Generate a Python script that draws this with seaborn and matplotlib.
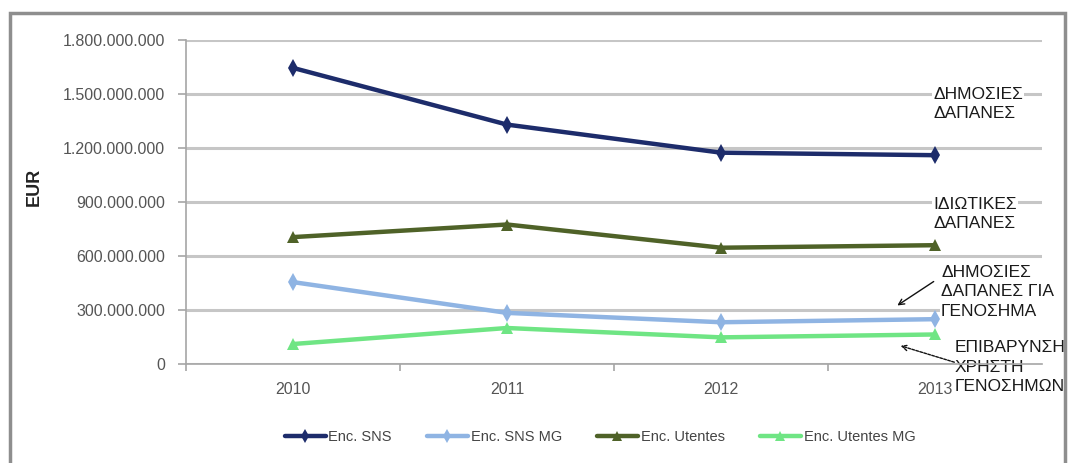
import matplotlib
matplotlib.use("Agg")
import matplotlib.pyplot as plt
import numpy as np
import pandas as pd
import seaborn as sns
from matplotlib.ticker import FuncFormatter, FixedLocator
from matplotlib.patches import Rectangle

# Spending by year (EUR)
years = ["2010", "2011", "2012", "2013"]
enc_sns = [1_645_000_000, 1_330_000_000, 1_174_000_000, 1_160_000_000]
enc_sns_mg = [455_000_000, 284_000_000, 232_000_000, 249_000_000]
enc_utentes = [705_000_000, 775_000_000, 646_000_000, 660_000_000]
enc_utentes_mg = [111_000_000, 200_000_000, 148_000_000, 164_000_000]

series_names = ["Enc. SNS", "Enc. SNS MG", "Enc. Utentes", "Enc. Utentes MG"]
series_values = [enc_sns, enc_sns_mg, enc_utentes, enc_utentes_mg]
y_ticks = [0, 300_000_000, 600_000_000, 900_000_000, 1_200_000_000, 1_500_000_000, 1_800_000_000]

colors = {"Enc. SNS": "#1d2c6b", "Enc. SNS MG": "#8fb4e3",
          "Enc. Utentes": "#4f6228", "Enc. Utentes MG": "#6fe584"}
markers = {"Enc. SNS": "d", "Enc. SNS MG": "d",
           "Enc. Utentes": "^", "Enc. Utentes MG": "^"}

rows = []
for name, vals in zip(series_names, series_values):
    for i, (yr, v) in enumerate(zip(years, vals)):
        rows.append({"pos": i, "ano": yr, "serie": name, "valor": v})
df = pd.DataFrame(rows)

sns.set_style("white")
plt.rcParams["font.family"] = ["Liberation Sans", "DejaVu Sans"]

W, H = 1071, 463
fig = plt.figure(figsize=(W / 100, H / 100), dpi=100)


def fx(x):
    return x / W


def fy(y):
    return 1 - y / H


ax = fig.add_axes([fx(186), fy(364), fx(1042) - fx(186), fy(40) - fy(364)])

sns.lineplot(data=df, x="pos", y="valor", hue="serie", style="serie",
             hue_order=series_names, style_order=series_names,
             palette=colors, markers=markers, dashes=False,
             linewidth=3.2, markersize=9, markeredgewidth=0,
             sort=False, ax=ax, zorder=3)

ax.set_xlim(-0.5, 3.5)
ax.set_ylim(0, 1_800_000_000)
ax.set_axisbelow(True)

# Axes styling
for side in ["top", "right"]:
    ax.spines[side].set_visible(False)
ax.spines["left"].set_color("#a6a6a6")
ax.spines["left"].set_linewidth(1.2)
ax.spines["bottom"].set_color("#a6a6a6")
ax.spines["bottom"].set_linewidth(1.2)

ax.yaxis.set_major_locator(FixedLocator(y_ticks))
ax.yaxis.set_major_formatter(FuncFormatter(lambda v, p: f"{v:,.0f}".replace(",", ".")))
ax.grid(axis="y", color="#c6c6c6", linewidth=2.2)
ax.grid(axis="x", visible=False)
ax.tick_params(axis="y", which="major", direction="out", length=6, width=1.2,
               color="#a6a6a6", pad=9, labelsize=11.5, labelcolor="#555555", left=True)

ax.set_xticks(range(len(years)))
ax.set_xticklabels(years)
ax.set_xticks(np.arange(-0.5, len(years), 1.0), minor=True)
ax.tick_params(axis="x", which="major", length=0, pad=13, labelsize=11.5,
               labelcolor="#555555")
ax.tick_params(axis="x", which="minor", direction="out", length=5, width=1.2,
               color="#a6a6a6", bottom=True)

ax.set_xlabel("")
ax.set_ylabel("EUR", fontsize=13, fontweight="bold", color="#222222")
ax.yaxis.set_label_coords((43 - 186) / (1042 - 186), (364 - 187) / (364 - 40))

# Legend below the plot
handles, labels = ax.get_legend_handles_labels()
for h in handles:
    h.set_markersize(7)
ax.get_legend().remove()
fig.legend(handles, labels, loc="center", bbox_to_anchor=(fx(600), fy(437)),
           ncol=4, frameon=False, fontsize=10.5, handlelength=2.8,
           columnspacing=2.4, handletextpad=0.2, labelcolor="#444444")

# Chart frame
fig.patches.append(Rectangle((fx(10), -0.1), fx(1065) - fx(10), fy(13) + 0.1,
                             transform=fig.transFigure, fill=False,
                             edgecolor="#8e8e8e", linewidth=2.5, zorder=0))

# Side labels
box = dict(facecolor="white", edgecolor="none", pad=1.0)
label_kw = dict(transform=fig.transFigure, fontsize=12.5, color="#1a1a1a",
                ha="left", va="center", linespacing=1.35, clip_on=False,
                bbox=box, zorder=2.5)
ax.text(fx(933), fy(104), "ΔΗΜΟΣΙΕΣ\nΔΑΠΑΝΕΣ", **label_kw)
ax.text(fx(933), fy(214), "ΙΔΙΩΤΙΚΕΣ\nΔΑΠΑΝΕΣ", **label_kw)
ax.text(fx(941), fy(292), "ΔΗΜΟΣΙΕΣ\nΔΑΠΑΝΕΣ ΓΙΑ\nΓΕΝΟΣΗΜΑ", **label_kw)
ax.text(fx(955), fy(367), "ΕΠΙΒΑΡΥΝΣΗ\nΧΡΗΣΤΗ\nΓΕΝΟΣΗΜΩΝ", **label_kw)

# Pointer arrows
ax.annotate("", xy=(fx(895), fy(307)), xytext=(fx(936), fy(280)),
            xycoords="figure fraction", textcoords="figure fraction",
            arrowprops=dict(arrowstyle="->", color="#111111", lw=1.0),
            annotation_clip=False, zorder=4)
ax.annotate("", xy=(fx(898), fy(345)), xytext=(fx(957), fy(363)),
            xycoords="figure fraction", textcoords="figure fraction",
            arrowprops=dict(arrowstyle="->", color="#111111", lw=1.0,
                            linestyle=(0, (2, 1))),
            annotation_clip=False, zorder=4)

fig.savefig("out.png", dpi=100, facecolor="white")
